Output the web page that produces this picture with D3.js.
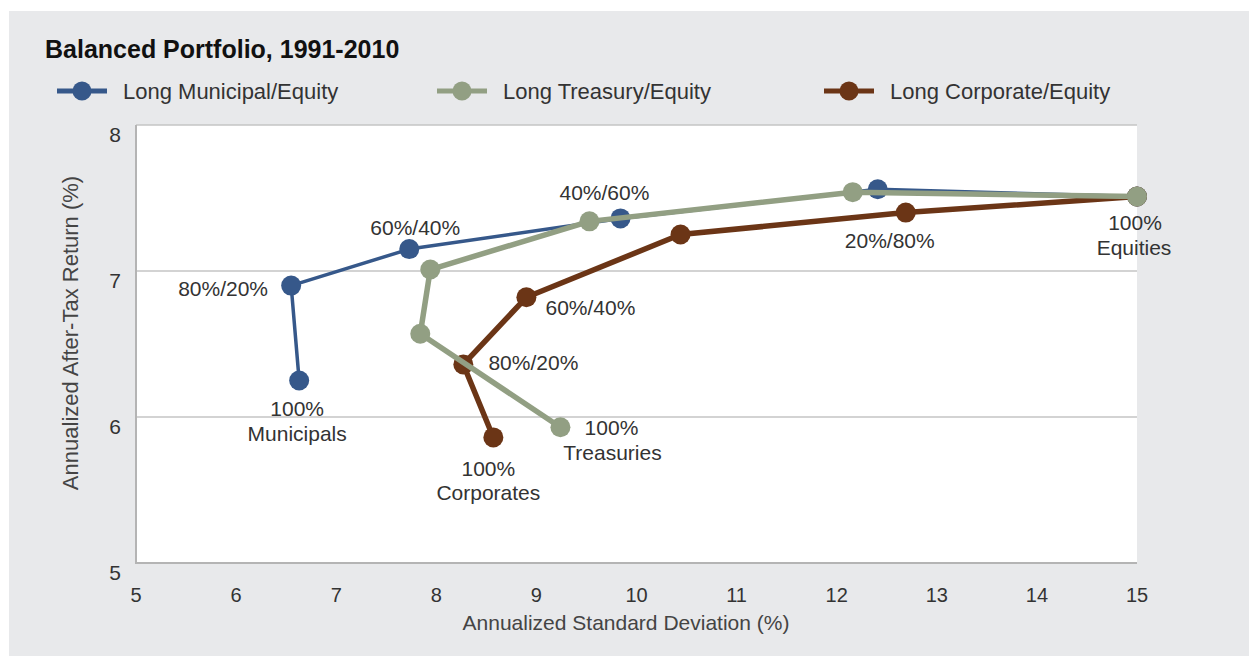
<!DOCTYPE html>
<html>
<head>
<meta charset="utf-8">
<script src="https://cdn.jsdelivr.net/npm/d3@7"></script>
<style>
  html, body { margin: 0; padding: 0; background: #fff; }
  svg { display: block; font-family: "Liberation Sans", Arial, sans-serif; }
</style>
</head>
<body>
<svg id="chart" width="1249" height="656"></svg>
<script>
// series: [std dev, after-tax return], from 100% bonds to 100% equities
const municipal = [[6.63, 6.25], [6.55, 6.90], [7.73, 7.15], [9.84, 7.36], [12.41, 7.56], [15.0, 7.51]]
const treasury = [[9.24, 5.93], [7.84, 6.57], [7.94, 7.01], [9.53, 7.34], [12.16, 7.54], [15.0, 7.51]]
const corporate = [[8.57, 5.86], [8.27, 6.36], [8.90, 6.82], [10.44, 7.25], [12.69, 7.40], [15.0, 7.51]]

const seriesNames = ['Long Municipal/Equity', 'Long Treasury/Equity', 'Long Corporate/Equity']
const xTicks = [5, 6, 7, 8, 9, 10, 11, 12, 13, 14, 15]
const yTicks = [5, 6, 7, 8]

// point labels, placed in data units
const labels = [
  ['80%/20%', 5.87, 6.88], ['60%/40%', 7.79, 7.30], ['100%', 6.61, 6.06], ['Municipals', 6.61, 5.89],
  ['40%/60%', 9.68, 7.54], ['60%/40%', 9.54, 6.75], ['80%/20%', 8.97, 6.37],
  ['100%', 9.75, 5.93], ['Treasuries', 9.76, 5.76], ['100%', 8.52, 5.65], ['Corporates', 8.52, 5.48],
  ['20%/80%', 12.53, 7.21], ['100%', 14.98, 7.33], ['Equities', 14.97, 7.16]
]

const colors = { muni: '#36588a', treas: '#929f83', corp: '#6b3516' }

const svg = d3.select('#chart')

// grey panel
svg.append('rect').attr('x', 9).attr('y', 11).attr('width', 1240).attr('height', 645).attr('fill', '#e8e9eb')

const x = d3.scaleLinear().domain([5, 15]).range([136, 1137])
const y = d3.scaleLinear().domain([5, 8]).range([563, 125])

svg.append('rect')
  .attr('x', x(5)).attr('y', y(8))
  .attr('width', x(15) - x(5)).attr('height', y(5) - y(8))
  .attr('fill', '#fff')

// gridlines
svg.append('g').selectAll('line')
  .data(yTicks.slice(1))
  .join('line')
  .attr('x1', x(5)).attr('x2', x(15))
  .attr('y1', d => y(d)).attr('y2', d => y(d))
  .attr('stroke', '#c4c4c4').attr('stroke-width', 1.5)

svg.append('path')
  .attr('d', `M${x(5)},${y(8)}V${y(5)}H${x(15)}`)
  .attr('fill', 'none').attr('stroke', '#b4b4b4').attr('stroke-width', 2)

// tick labels
svg.append('g').selectAll('text')
  .data(yTicks)
  .join('text')
  .attr('x', 115).attr('y', d => y(d) + 9)
  .attr('text-anchor', 'middle').attr('dominant-baseline', 'central')
  .attr('font-size', 21).attr('fill', '#333')
  .text(d => d)

svg.append('g').selectAll('text')
  .data(xTicks)
  .join('text')
  .attr('x', d => x(d)).attr('y', 595)
  .attr('text-anchor', 'middle').attr('dominant-baseline', 'central')
  .attr('font-size', 20).attr('fill', '#333')
  .text(d => d)

svg.append('text')
  .attr('x', 626).attr('y', 622)
  .attr('text-anchor', 'middle').attr('dominant-baseline', 'central')
  .attr('font-size', 21).attr('fill', '#444')
  .text('Annualized Standard Deviation (%)')

svg.append('text')
  .attr('transform', 'translate(70,333) rotate(-90)')
  .attr('text-anchor', 'middle').attr('dominant-baseline', 'central')
  .attr('font-size', 22).attr('fill', '#444')
  .text('Annualized After-Tax Return (%)')

// title
svg.append('text')
  .attr('x', 45).attr('y', 58)
  .attr('font-size', 25).attr('font-weight', 'bold').attr('fill', '#111')
  .text('Balanced Portfolio, 1991-2010')

// legend
const legend = [
  { name: seriesNames[0], color: colors.muni, x0: 57 },
  { name: seriesNames[1], color: colors.treas, x0: 437 },
  { name: seriesNames[2], color: colors.corp, x0: 824 }
]
const lg = svg.append('g').selectAll('g').data(legend).join('g')
  .attr('transform', d => `translate(${d.x0},91)`)
lg.append('line').attr('x1', 0).attr('x2', 50).attr('stroke', d => d.color).attr('stroke-width', 5)
lg.append('circle').attr('cx', 25).attr('r', 9.5).attr('fill', d => d.color)
lg.append('text')
  .attr('x', 66).attr('dominant-baseline', 'central')
  .attr('font-size', 22).attr('fill', '#333')
  .text(d => d.name)

// series lines, treasury drawn last (it sits on top)
const line = d3.line().x(d => x(d[0])).y(d => y(d[1]))
const series = [
  { data: municipal, color: colors.muni, width: 3.5 },
  { data: corporate, color: colors.corp, width: 5.5 },
  { data: treasury, color: colors.treas, width: 5.5 }
]
series.forEach(s => {
  const g = svg.append('g')
  g.append('path')
    .attr('d', line(s.data))
    .attr('fill', 'none').attr('stroke', s.color).attr('stroke-width', s.width)
    .attr('stroke-linejoin', 'round')
  g.selectAll('circle')
    .data(s.data)
    .join('circle')
    .attr('cx', d => x(d[0])).attr('cy', d => y(d[1]))
    .attr('r', 10).attr('fill', s.color)
})

// point labels
svg.append('g').selectAll('text')
  .data(labels)
  .join('text')
  .attr('x', d => x(d[1])).attr('y', d => y(d[2]))
  .attr('text-anchor', 'middle').attr('dominant-baseline', 'central')
  .attr('font-size', 21).attr('fill', '#333')
  .text(d => d[0])
</script>
</body>
</html>
